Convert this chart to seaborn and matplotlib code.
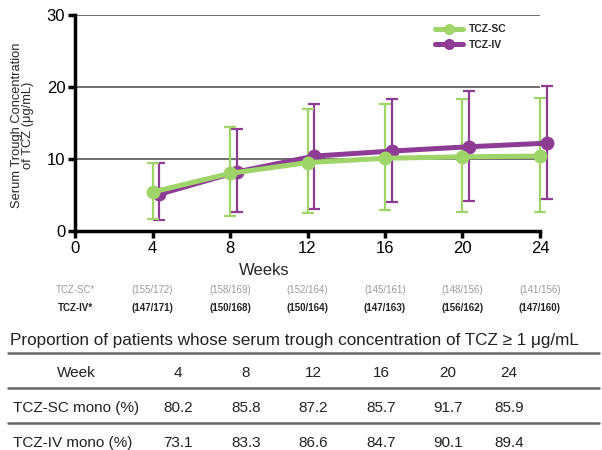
import seaborn as sns
import pandas as pd
import matplotlib.pyplot as plt
from matplotlib.lines import Line2D

# Serum trough concentration of TCZ (mean with error bars)
weeks = [4, 8, 12, 16, 20, 24]
sc_mean = [5.4, 8.0, 9.5, 10.1, 10.3, 10.4]
sc_low = [1.7, 2.1, 2.5, 2.9, 2.7, 2.7]
sc_high = [9.4, 14.4, 17.0, 17.6, 18.3, 18.5]
iv_mean = [5.1, 8.2, 10.4, 11.1, 11.7, 12.2]
iv_low = [1.5, 2.7, 3.1, 4.0, 4.2, 4.4]
iv_high = [9.4, 14.1, 17.7, 18.3, 19.4, 20.2]

# patients counts under the x axis
sc_counts = ["(155/172)", "(158/169)", "(152/164)", "(145/161)", "(148/156)", "(141/156)"]
iv_counts = ["(147/171)", "(150/168)", "(150/164)", "(147/163)", "(156/162)", "(147/160)"]

# table
table_title = "Proportion of patients whose serum trough concentration of TCZ \u2265 1 \u03bcg/mL"
table_weeks = ["4", "8", "12", "16", "20", "24"]
sc_prop = [80.2, 85.8, 87.2, 85.7, 91.7, 85.9]
iv_prop = [73.1, 83.3, 86.6, 84.7, 90.1, 89.4]

green = "#9fd468"
purple = "#8e3b96"

sns.set_style("ticks")
plt.rcParams["font.family"] = ["Liberation Sans", "DejaVu Sans"]

fig = plt.figure(figsize=(6.02, 4.5), dpi=100)
ax = fig.add_axes([0.1246, 0.4867, 0.7724, 0.48])

iv_offset = 0.35  # IV points are drawn slightly to the right
iv_x = [w + iv_offset for w in weeks]

ax.errorbar(iv_x, iv_mean,
            yerr=[[m - l for m, l in zip(iv_mean, iv_low)], [h - m for m, h in zip(iv_mean, iv_high)]],
            fmt="none", ecolor=purple, elinewidth=1.6, capsize=4, capthick=1.6, zorder=2, clip_on=False)
ax.errorbar(weeks, sc_mean,
            yerr=[[m - l for m, l in zip(sc_mean, sc_low)], [h - m for m, h in zip(sc_mean, sc_high)]],
            fmt="none", ecolor=green, elinewidth=1.6, capsize=4, capthick=1.6, zorder=2, clip_on=False)

df_iv = pd.DataFrame({"week": iv_x, "conc": iv_mean})
df_sc = pd.DataFrame({"week": weeks, "conc": sc_mean})
sns.lineplot(data=df_iv, x="week", y="conc", ax=ax, color=purple, marker="o",
             markersize=10, linewidth=3.6, markeredgewidth=0, label="TCZ-IV", zorder=3, clip_on=False)
sns.lineplot(data=df_sc, x="week", y="conc", ax=ax, color=green, marker="o",
             markersize=10, linewidth=3.6, markeredgewidth=0, label="TCZ-SC", zorder=4, clip_on=False)

ax.set_xlim(0, 24)
ax.set_ylim(0, 30)
ax.set_xticks([0, 4, 8, 12, 16, 20, 24])
ax.set_yticks([0, 10, 20, 30])
ax.grid(axis="y", color="#555555", linewidth=1.2)
ax.set_axisbelow(True)
sns.despine(ax=ax)
for s in ["left", "bottom"]:
    ax.spines[s].set_linewidth(2.5)
    ax.spines[s].set_color("black")
ax.tick_params(axis="both", labelsize=12, width=2.5, length=5, pad=2, colors="black")

ax.set_ylabel("Serum Trough Concentration\nof TCZ (\u03bcg/mL)", fontsize=9.3, linespacing=0.85)
ax.yaxis.set_label_coords(-0.088, 0.49)
ax.set_xlabel("Weeks", fontsize=12)
ax.xaxis.set_label_coords(0.408, -0.15)

handles, labels = ax.get_legend_handles_labels()
leg = ax.legend(handles[::-1], labels[::-1], loc="upper left", bbox_to_anchor=(0.755, 1.0),
                frameon=False, handlelength=2.6, handletextpad=0.6, markerscale=0.8, labelspacing=0.5,
                prop={"size": 7.5, "weight": "bold"})

# counts rows under the axis
trans = ax.get_xaxis_transform()
ax.text(0, -0.273, "TCZ-SC*", transform=trans, ha="center", va="center", fontsize=7, color="#999999")
ax.text(0, -0.356, "TCZ-IV*", transform=trans, ha="center", va="center", fontsize=7,
        color="#222222", fontweight="bold")
for w, c_sc, c_iv in zip(weeks, sc_counts, iv_counts):
    ax.text(w, -0.273, c_sc, transform=trans, ha="center", va="center", fontsize=7, color="#999999")
    ax.text(w, -0.356, c_iv, transform=trans, ha="center", va="center", fontsize=7,
            color="#222222", fontweight="bold")

# table below
fig.text(0.017, 0.2444, table_title, fontsize=12.3, ha="left", va="center", color="#222222")
for yy in [0.2156, 0.1378, 0.06]:
    fig.add_artist(Line2D([0.013, 0.995], [yy, yy], color="#666666", linewidth=1.8,
                          transform=fig.transFigure))
col_x = [178, 246, 313, 381, 448, 509]
fig.text(76 / 602, 0.171, "Week", fontsize=11, ha="center", va="center", color="#222222")
fig.text(13 / 602, 0.0933, "TCZ-SC mono (%)", fontsize=11, ha="left", va="center", color="#222222")
fig.text(13 / 602, 0.0156, "TCZ-IV mono (%)", fontsize=11, ha="left", va="center", color="#222222")
for cx, wk, p_sc, p_iv in zip(col_x, table_weeks, sc_prop, iv_prop):
    fig.text(cx / 602, 0.171, wk, fontsize=11, ha="center", va="center", color="#222222")
    fig.text(cx / 602, 0.0933, f"{p_sc:.1f}", fontsize=11, ha="center", va="center", color="#222222")
    fig.text(cx / 602, 0.0156, f"{p_iv:.1f}", fontsize=11, ha="center", va="center", color="#222222")

fig.savefig("out.png", dpi=100)
